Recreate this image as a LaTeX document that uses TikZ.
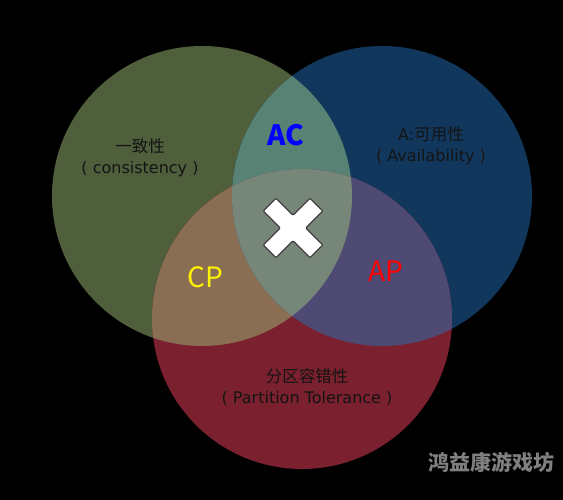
\documentclass[tikz,border=0pt]{standalone}
\usepackage{fontspec}
\setmainfont{Noto Sans CJK SC}
\newfontfamily\latinfont{DejaVu Sans}
\definecolor{cgreen}{RGB}{79,94,59}
\definecolor{cblue}{RGB}{17,56,92}
\definecolor{cred}{RGB}{122,32,46}
\definecolor{colac}{RGB}{88,130,115}
\definecolor{colcp}{RGB}{138,110,84}
\definecolor{colap}{RGB}{78,74,116}
\definecolor{colmid}{RGB}{118,134,120}
\newcommand{\lat}[1]{{\latinfont\fontsize{16}{21}\selectfont #1}}

\begin{document}
\begin{tikzpicture}[x=1pt,y=1pt,
    lbl/.style={text=black!92,font=\fontsize{16.5}{21}\selectfont,align=center,inner sep=0pt},
    pair/.style={font=\fontsize{28}{30}\selectfont,inner sep=0pt},
    xmark/.style={fill=white,draw=black!75,line width=1.2pt,line join=round,rounded corners=1pt}]
  \fill[black] (0,0) rectangle (563,500);

  \coordinate (C) at (202,304);
  \coordinate (A) at (382,304);
  \coordinate (P) at (302,181);

  \fill[cgreen] (C) circle[radius=150];
  \fill[cblue] (A) circle[radius=150];
  \fill[cred] (P) circle[radius=150];
  \begin{scope}
    \clip (C) circle[radius=150];
    \fill[colac] (A) circle[radius=150];
    \fill[colcp] (P) circle[radius=150];
  \end{scope}
  \begin{scope}
    \clip (A) circle[radius=150];
    \fill[colap] (P) circle[radius=150];
    \clip (C) circle[radius=150];
    \fill[colmid] (P) circle[radius=150];
  \end{scope}

  \node[lbl] (c-lbl) at (140,342) {一致性\\\lat{( consistency )}};
  \node[lbl] (a-lbl) at (431,354) {\lat{A:}可用性\\\lat{( Availability )}};
  \node[lbl] (p-lbl) at (307,113) {分区容错性\\\lat{( Partition Tolerance )}};

  \node[pair,text=blue,font=\fontsize{28}{30}\selectfont\bfseries] (ac) at (286,365) {AC};
  \node[pair,text=yellow] (cp) at (205,223) {CP};
  \node[pair,text=red] (ap) at (386,229) {AP};

  \coordinate (x) at (293,272);
  \draw[xmark,shift={(x)},rotate=45] (9,33) -- (9,9) -- (33,9) -- (33,-9) -- (9,-9) -- (9,-33)
    -- (-9,-33) -- (-9,-9) -- (-33,-9) -- (-33,9) -- (-9,9) -- (-9,33) -- cycle;

  \node[text=black!50,font=\fontsize{21}{24}\selectfont\bfseries,inner sep=0pt] (mark) at (491,38) {鸿益康游戏坊};
\end{tikzpicture}
\end{document}
